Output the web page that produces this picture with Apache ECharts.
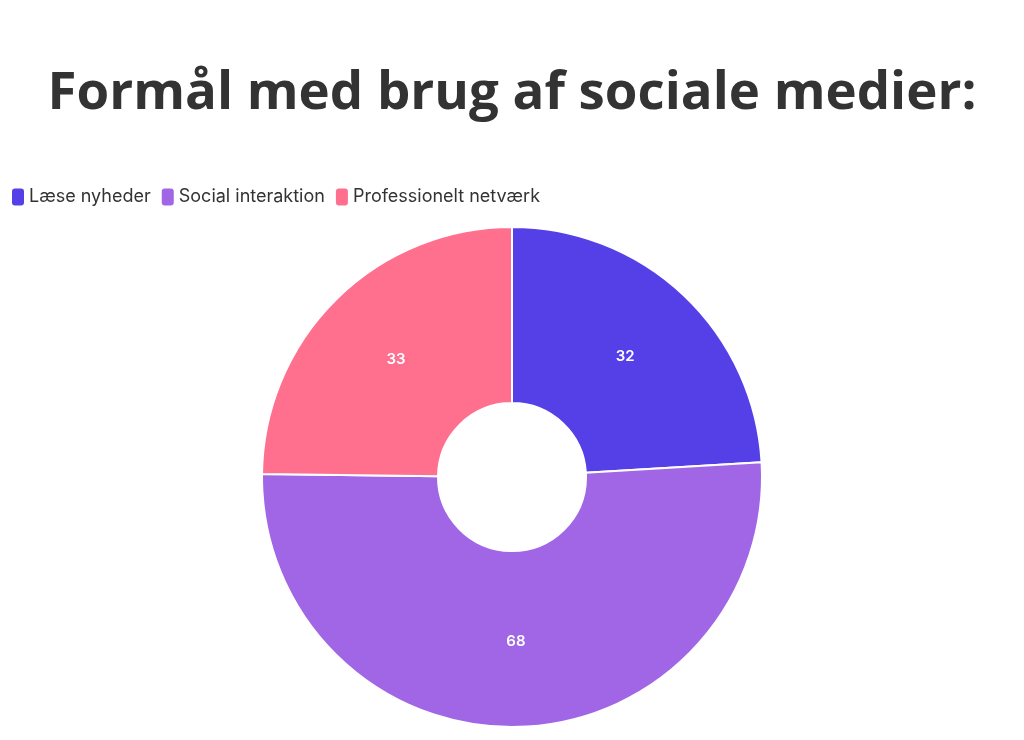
<!DOCTYPE html>
<html>
<head>
<meta charset="utf-8">
<script src="https://cdn.jsdelivr.net/npm/echarts@6/dist/echarts.min.js"></script>
<style>html,body{margin:0;padding:0;background:#fff}#c{width:1024px;height:740px}</style>
</head>
<body>
<div id="c"></div>
<script>
const titleText = 'Formål med brug af sociale medier:';
const categories = ['Læse nyheder', 'Social interaktion', 'Professionelt netværk'];
const values = [32, 68, 33];
const colors = ['#5540E8', '#A066E6', '#FF6F8E'];

const chart = echarts.init(document.getElementById('c'));
chart.setOption({
  backgroundColor: '#ffffff',
  title: {
    text: titleText,
    left: 'center',
    top: 62,
    textStyle: { fontFamily: 'Open Sans', fontWeight: 'bold', fontSize: 52.8, color: '#333333' }
  },
  legend: {
    left: 12,
    top: 188,
    padding: 0,
    itemWidth: 12,
    itemHeight: 17,
    itemGap: 11,
    icon: 'roundRect',
    symbolKeepAspect: false,
    itemStyle: { borderWidth: 0 },
    textStyle: { fontFamily: 'Inter', fontSize: 18, color: '#333333', padding: [0, 0, 0, 0] },
    data: categories
  },
  series: [{
    type: 'pie',
    center: [512, 477],
    radius: [74, 250],
    startAngle: 90,
    clockwise: true,
    avoidLabelOverlap: false,
    itemStyle: { borderColor: '#ffffff', borderWidth: 2 },
    label: {
      show: true,
      position: 'inside',
      formatter: '{c}',
      color: '#ffffff',
      fontFamily: 'Inter',
      fontWeight: 600,
      fontSize: 15,
      textBorderWidth: 3
    },
    labelLine: { show: false },
    data: categories.map((n, i) => ({
      name: n, value: values[i],
      itemStyle: { color: colors[i] },
      label: { textBorderColor: colors[i] }
    }))
  }]
});
</script>
</body>
</html>
